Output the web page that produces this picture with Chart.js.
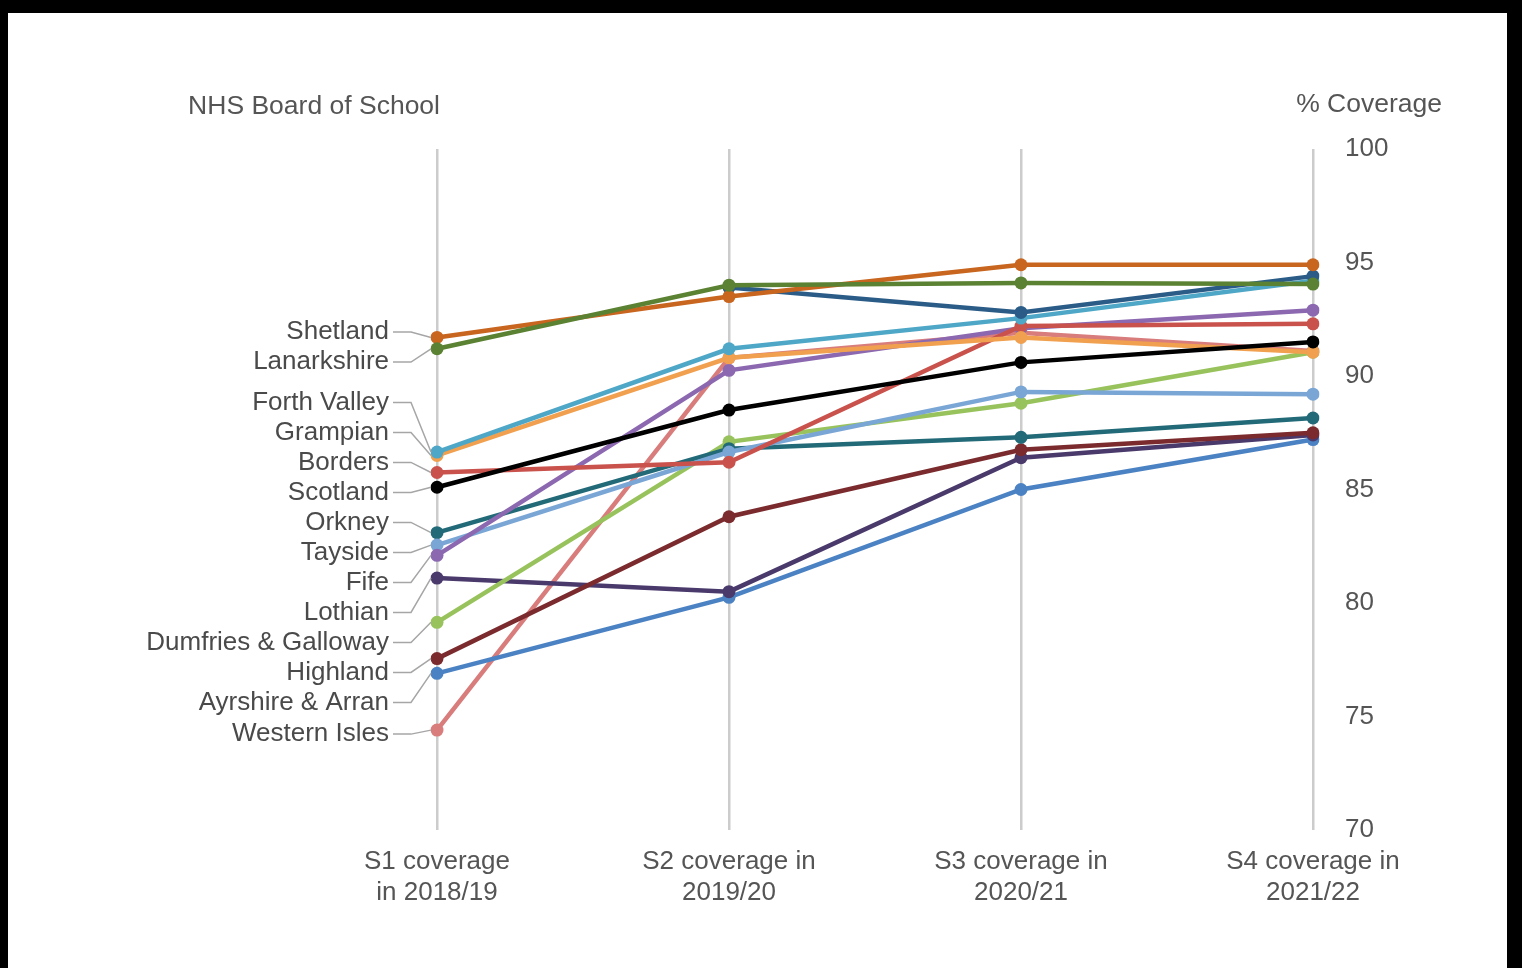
<!DOCTYPE html>
<html>
<head>
<meta charset="utf-8">
<title>Coverage by NHS Board</title>
<script src="https://cdn.jsdelivr.net/npm/chart.js@4.4.0/dist/chart.umd.min.js"></script>
<style>
  html, body { margin: 0; padding: 0; background: #000; }
  #marco { position: absolute; left: 8px; top: 13px; width: 1499px; height: 955px; background: #fff; }
  #lineas { display: block; }
</style>
</head>
<body>
<div id="marco"><canvas id="lineas" width="1499" height="955"></canvas></div>
<script>
// DATOS ------------------------------------------------------------
const categorias = [
  ["S1 coverage", "in 2018/19"],
  ["S2 coverage in", "2019/20"],
  ["S3 coverage in", "2020/21"],
  ["S4 coverage in", "2021/22"]
];
const ticksY = [70, 75, 80, 85, 90, 95, 100];

const scotland        = [85.1, 88.5, 90.6, 91.5];
const shetland        = [91.7, 93.5, 94.9, 94.9];
const lanarkshire     = [91.2, 94.0, 94.1, 94.05];
const glasgowClyde    = [null, 93.9, 92.8, 94.4];
const forthValley     = [86.65, 91.2, 92.55, 94.2];
const grampian        = [86.5, 90.8, 91.7, 91.05];
const borders         = [85.75, 86.2, 92.2, 92.3];
const orkney          = [83.1, 86.8, 87.3, 88.15];
const tayside         = [82.55, 86.65, 89.3, 89.2];
const fife            = [82.1, 90.25, 92.1, 92.9];
const lothian         = [81.1, 80.5, 86.4, 87.4];
const dumfries        = [79.15, 87.1, 88.8, 91.05];
const highland        = [77.55, 83.8, 86.75, 87.5];
const ayrshire        = [76.9, 80.25, 85.0, 87.2];
const westernIsles    = [74.4, 90.8, 91.9, 91.1];
// DATOS END --------------------------------------------------------

function serie(nombre, valores, color, etiqueta) {
  return {
    label: nombre,
    data: valores,
    borderColor: color,
    backgroundColor: color,
    pointBackgroundColor: color,
    pointBorderColor: color,
    borderWidth: 4.5,
    pointRadius: 6.5,
    pointBorderWidth: 0,
    tension: 0,
    etiqueta: etiqueta
  };
}

// el primero se pinta arriba
const series = [
  serie("Scotland", scotland, "#000000", true),
  serie("Lanarkshire", lanarkshire, "#5b8232", true),
  serie("Shetland", shetland, "#c8651e", true),
  serie("Greater Glasgow & Clyde", glasgowClyde, "#2b5c88", false),
  serie("Forth Valley", forthValley, "#4ea7c6", true),
  serie("Grampian", grampian, "#f0a04e", true),
  serie("Borders", borders, "#c9524c", true),
  serie("Fife", fife, "#8b68b0", true),
  serie("Tayside", tayside, "#7aa6d6", true),
  serie("Orkney", orkney, "#226a78", true),
  serie("Dumfries & Galloway", dumfries, "#98c35c", true),
  serie("Highland", highland, "#7b2b2d", true),
  serie("Lothian", lothian, "#4a3a6c", true),
  serie("Ayrshire & Arran", ayrshire, "#4b82c3", true),
  serie("Western Isles", westernIsles, "#d97c7c", true)
];

const FUENTE = '"Liberation Sans", Arial, sans-serif';

// ETIQUETAS con lineas guia a la izquierda
const etiquetasPlugin = {
  id: "etiquetas",
  afterDatasetsDraw(chart) {
    const ctx = chart.ctx;
    const area = chart.chartArea;
    const y = chart.scales.y;
    let items = [];
    chart.data.datasets.forEach(ds => {
      if (!ds.etiqueta || ds.data[0] == null) return;
      items.push({ nombre: ds.label, py: y.getPixelForValue(ds.data[0]) });
    });
    items.sort((a, b) => a.py - b.py);

    // bloques que no se pisan
    const gap = 30;
    let bloques = [];
    items.forEach(it => {
      bloques.push({ items: [it], suma: it.py, inicio: it.py });
      while (bloques.length > 1) {
        const b = bloques[bloques.length - 1];
        const a = bloques[bloques.length - 2];
        if (a.inicio + a.items.length * gap > b.inicio) {
          a.items = a.items.concat(b.items);
          a.suma += b.suma;
          a.inicio = a.suma / a.items.length - (a.items.length - 1) * gap / 2;
          bloques.pop();
        } else break;
      }
    });

    ctx.save();
    ctx.font = "26px " + FUENTE;
    ctx.textAlign = "right";
    ctx.textBaseline = "middle";
    bloques.forEach(b => {
      b.items.forEach((it, i) => {
        const ly = b.inicio + i * gap + 4;
        ctx.strokeStyle = "#a6a6a6";
        ctx.lineWidth = 1.5;
        ctx.beginPath();
        ctx.moveTo(area.left - 44, ly);
        ctx.lineTo(area.left - 26, ly);
        ctx.lineTo(area.left - 6, it.py);
        ctx.stroke();
        ctx.fillStyle = "#4a4a4a";
        ctx.fillText(it.nombre, area.left - 48, ly);
      });
    });

    // titulos de ejes
    ctx.font = "26.5px " + FUENTE;
    ctx.fillStyle = "#555";
    ctx.textAlign = "right";
    ctx.fillText("NHS Board of School", area.left + 3, area.top - 42);
    ctx.fillText("% Coverage", area.right + 129, area.top - 44);
    ctx.restore();
  }
};

const config = {
  type: "line",
  data: { labels: categorias, datasets: series },
  options: {
    responsive: false,
    animation: false,
    layout: { padding: { left: 429, top: 136, right: 0, bottom: 0 } },
    plugins: {
      legend: { display: false },
      tooltip: { enabled: false }
    },
    scales: {
      x: {
        offset: false,
        grid: { display: true, color: "#cccccc", lineWidth: 2.5, drawTicks: false },
        border: { display: false },
        ticks: {
          color: "#555",
          font: { family: FUENTE, size: 26, lineHeight: 1.2 },
          padding: 16,
          maxRotation: 0,
          autoSkip: false
        },
        afterFit: s => { s.height = 138; }
      },
      y: {
        position: "right",
        min: ticksY[0],
        max: ticksY[ticksY.length - 1],
        afterBuildTicks: s => { s.ticks = ticksY.map(v => ({ value: v })); },
        grid: { display: false, drawTicks: false },
        border: { display: false },
        ticks: {
          color: "#555",
          font: { family: FUENTE, size: 26 },
          padding: 32
        },
        afterFit: s => { s.width = 194; }
      }
    }
  },
  plugins: [etiquetasPlugin]
};

new Chart(document.getElementById("lineas"), config);
</script>
</body>
</html>
